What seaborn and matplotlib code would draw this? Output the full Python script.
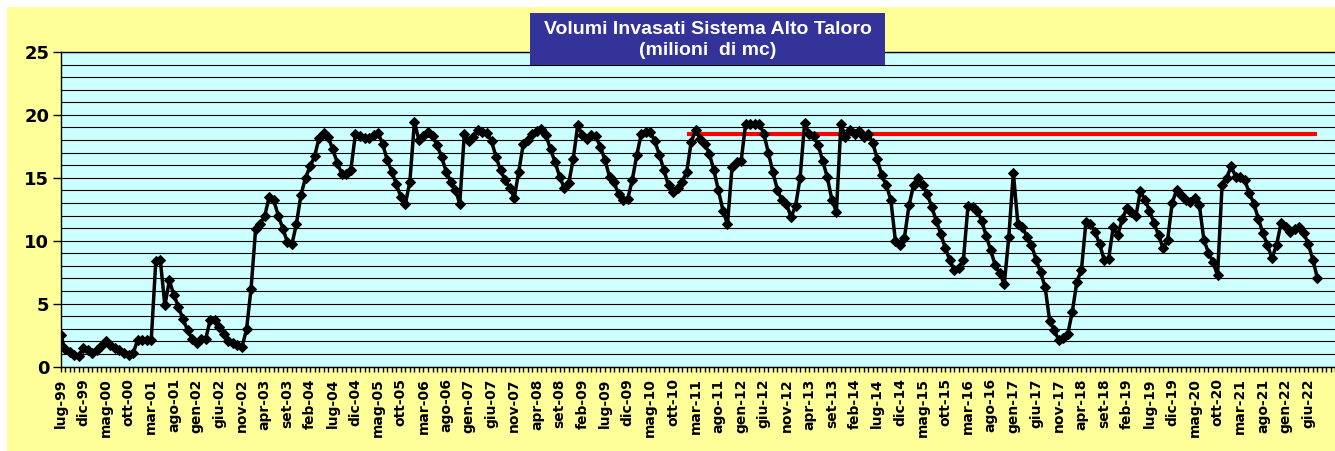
import matplotlib
matplotlib.use("Agg")
import matplotlib.pyplot as plt
import numpy as np
import pandas as pd
import seaborn as sns
from matplotlib.patches import Rectangle
from matplotlib.ticker import MultipleLocator, FixedLocator

# ---------------- data ----------------
mesi = ["gen", "feb", "mar", "apr", "mag", "giu", "lug", "ago", "set", "ott", "nov", "dic"]
start_year, start_month = 1999, 7          # lug-99
n_categories = 282                          # lug-99 ... dic-22 (axis categories)

vol_1999 = [2.5, 1.4, 1.15, 0.9, 0.8, 1.45]
vol_2000 = [1.3, 1.1, 1.3, 1.65, 2.0, 1.7, 1.5, 1.35, 1.1, 0.9, 1.05, 2.1]
vol_2001 = [2.1, 2.1, 2.1, 8.35, 8.45, 4.85, 6.85, 5.65, 4.75, 3.75, 2.9, 2.2]
vol_2002 = [1.9, 2.15, 2.2, 3.7, 3.7, 3.15, 2.55, 2.05, 1.9, 1.7, 1.55, 2.95]
vol_2003 = [6.2, 10.9, 11.35, 11.95, 13.5, 13.2, 12.0, 10.95, 9.9, 9.7, 11.35, 13.65]
vol_2004 = [15.0, 15.9, 16.7, 18.2, 18.55, 18.25, 17.25, 16.2, 15.3, 15.3, 15.65, 18.5]
vol_2005 = [18.3, 18.15, 18.15, 18.4, 18.55, 17.7, 16.4, 15.5, 14.5, 13.5, 12.9, 14.7]
vol_2006 = [19.45, 18.0, 18.3, 18.65, 18.3, 17.6, 16.65, 15.5, 14.7, 14.05, 12.95, 18.5]
vol_2007 = [17.9, 18.25, 18.8, 18.65, 18.55, 17.9, 16.65, 15.6, 14.8, 14.2, 13.4, 15.5]
vol_2008 = [17.7, 18.0, 18.5, 18.75, 18.9, 18.4, 17.25, 16.25, 15.1, 14.2, 14.55, 16.5]
vol_2009 = [19.2, 18.4, 18.1, 18.4, 18.3, 17.45, 16.4, 15.1, 14.65, 13.7, 13.2, 13.3]
vol_2010 = [14.8, 16.8, 18.5, 18.65, 18.65, 17.9, 16.8, 15.6, 14.4, 13.9, 14.2, 14.7]
vol_2011 = [15.45, 17.85, 18.8, 18.1, 17.7, 16.9, 15.6, 14.0, 12.4, 11.3, 15.85, 16.25]
vol_2012 = [16.3, 19.3, 19.3, 19.3, 19.3, 18.5, 17.0, 15.45, 14.05, 13.2, 12.9, 11.9]
vol_2013 = [12.75, 15.0, 19.35, 18.5, 18.3, 17.6, 16.3, 15.05, 13.25, 12.3, 19.25, 18.25]
vol_2014 = [18.8, 18.5, 18.75, 18.25, 18.5, 17.8, 16.5, 15.2, 14.4, 13.25, 10.0, 9.65]
vol_2015 = [10.25, 12.8, 14.4, 14.95, 14.4, 13.75, 12.7, 11.6, 10.55, 9.4, 8.45, 7.65]
vol_2016 = [7.8, 8.5, 12.75, 12.7, 12.4, 11.6, 10.4, 9.25, 8.05, 7.4, 6.55, 10.3]
vol_2017 = [15.4, 11.35, 11.1, 10.3, 9.65, 8.5, 7.5, 6.3, 3.65, 2.9, 2.1, 2.3]
vol_2018 = [2.6, 4.35, 6.75, 7.65, 11.5, 11.35, 10.7, 9.75, 8.5, 8.55, 11.05, 10.45]
vol_2019 = [11.7, 12.6, 12.3, 11.95, 13.95, 13.25, 12.4, 11.4, 10.45, 9.4, 10.05, 13.0]
vol_2020 = [14.05, 13.6, 13.2, 13.1, 13.4, 12.8, 10.05, 9.05, 8.3, 7.25, 14.4, 15.0]
vol_2021 = [15.9, 15.1, 15.05, 14.8, 13.8, 12.95, 11.75, 10.6, 9.65, 8.6, 9.65, 11.4]
vol_2022 = [11.1, 10.7, 10.95, 11.1, 10.6, 9.75, 8.5, 7.05]

soglia_valore = 18.5
soglia_inizio = "gen-11"

volumi = (vol_1999 + vol_2000 + vol_2001 + vol_2002 + vol_2003 + vol_2004 + vol_2005
          + vol_2006 + vol_2007 + vol_2008 + vol_2009 + vol_2010 + vol_2011 + vol_2012
          + vol_2013 + vol_2014 + vol_2015 + vol_2016 + vol_2017 + vol_2018 + vol_2019
          + vol_2020 + vol_2021 + vol_2022)

categories = []
for k in range(n_categories):
    m = (start_month - 1 + k) % 12
    y = start_year + (start_month - 1 + k) // 12
    categories.append(f"{mesi[m]}-{y % 100:02d}")

df = pd.DataFrame({"pos": np.arange(len(volumi)), "volume": volumi})
i0 = categories.index(soglia_inizio)
df_soglia = pd.DataFrame({"pos": np.arange(i0, len(volumi)),
                          "volume": [soglia_valore] * (len(volumi) - i0)})

# ---------------- figure ----------------
plt.rcParams["font.family"] = ["Liberation Sans", "DejaVu Sans"]
plt.rcParams["font.weight"] = "bold"

W, H = 1335, 451
fig = plt.figure(figsize=(W / 100, H / 100), dpi=100, facecolor="white")
fig.patches.append(Rectangle((7 / W, 0), 1 - 7 / W, 1 - 7 / H, transform=fig.transFigure,
                             facecolor="#FFFF99", edgecolor="none", zorder=-10))

left, right, top, bottom = 60.5, 1335.5, 52, 366.5
ax = fig.add_axes([left / W, 1 - bottom / H, (right - left) / W, (bottom - top) / H])
ax.set_zorder(1)
ax.set_facecolor("#CCFFFF")

sns.lineplot(data=df, x="pos", y="volume", ax=ax, color="black", lw=2.5,
             marker="D", markersize=4.8, markeredgecolor="black", markerfacecolor="black",
             zorder=5)
sns.lineplot(data=df_soglia, x="pos", y="volume", ax=ax, color="#FF0000", lw=3.0,
             zorder=4, solid_capstyle="butt")

ax.set_xlim(0, n_categories - 1)
ax.set_ylim(0, 25)

# y axis
ax.yaxis.set_major_locator(MultipleLocator(5))
ax.yaxis.set_minor_locator(MultipleLocator(1))
ax.tick_params(axis="y", which="major", direction="out", length=5.5, width=1, pad=2.5,
               colors="black")
ax.tick_params(axis="y", which="minor", length=0)
for lab in ax.get_yticklabels():
    lab.set_fontfamily("DejaVu Sans")
    lab.set_fontweight("bold")
    lab.set_fontsize(13)
ax.grid(True, which="both", axis="y", color="black", lw=0.8)
ax.grid(False, axis="x")
ax.set_axisbelow(True)

# x axis
label_pos = list(range(0, len(volumi), 5))
ax.xaxis.set_major_locator(FixedLocator(label_pos))
ax.xaxis.set_minor_locator(MultipleLocator(1))
ax.set_xticks(label_pos)
ax.set_xticklabels([categories[p] for p in label_pos], rotation=90, fontsize=10,
                   fontweight="bold", fontfamily="DejaVu Sans")
ax.tick_params(axis="x", which="both", direction="out", length=3.5, width=1, colors="black")
ax.tick_params(axis="x", which="major", pad=5)

ax.set_xlabel("")
ax.set_ylabel("")
for s in ["left", "bottom", "top"]:
    ax.spines[s].set_color("black")
    ax.spines[s].set_linewidth(1)
ax.spines["right"].set_visible(False)

# title box
bx0, bx1, by0, by1 = 530, 885, 13, 65
fig.patches.append(Rectangle((bx0 / W, 1 - by1 / H), (bx1 - bx0) / W, (by1 - by0) / H,
                             transform=fig.transFigure, facecolor="#333399",
                             edgecolor="none", zorder=10))
fig.text((bx0 + bx1) / 2 / W, 1 - 40 / H,
         "Volumi Invasati Sistema Alto Taloro\n(milioni  di mc)",
         ha="center", va="center", color="white", fontsize=14, fontweight="bold",
         linespacing=1.3, zorder=11)

fig.savefig("out.png", dpi=100, facecolor="white")
